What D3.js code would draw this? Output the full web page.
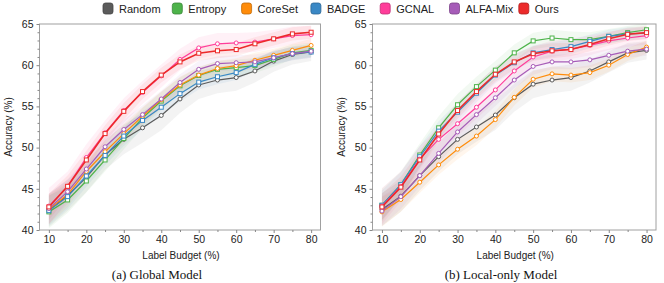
<!DOCTYPE html>
<html>
<head>
<script src="https://d3js.org/d3.v7.min.js"></script>
<style>
  body { margin: 0; background: #fff; }
  text { font-family: "Liberation Sans", Arial, sans-serif; }
  .caption { font-family: "Liberation Serif", "Times New Roman", serif; font-size: 13px; }
</style>
</head>
<body>
<svg id="chart" width="664" height="283"></svg>
<script>
const budgets = [10, 15, 20, 25, 30, 35, 40, 45, 50, 55, 60, 65, 70, 75, 80];
const methods = ["Random", "Entropy", "CoreSet", "BADGE", "GCNAL", "ALFA-Mix", "Ours"];
const colors = ["#5b5b5b", "#4db34a", "#ff8c0a", "#3a88c5", "#ff3d9a", "#a65cb8", "#ec2a2a"];

// (a) Global Model
const globalRandom  = [42.4, 44.2, 46.4, 49.1, 51.0, 52.4, 53.9, 55.9, 57.6, 58.2, 58.5, 59.3, 60.5, 61.3, 61.6];
const globalEntropy = [42.2, 43.65, 45.95, 48.5, 51.1, 53.6, 55.65, 57.5, 58.75, 59.5, 59.7, 59.95, 60.7, 61.5, 61.8];
const globalCoreSet = [42.5, 44.3, 47.1, 49.5, 51.7, 53.8, 55.8, 57.6, 58.8, 59.6, 59.95, 60.6, 61.2, 61.8, 62.4];
const globalBADGE   = [42.35, 44.05, 46.55, 49.05, 51.4, 53.3, 54.9, 56.55, 57.95, 58.6, 59.1, 60.1, 60.9, 61.4, 61.6];
const globalGCNAL   = [42.9, 45.3, 48.8, 51.8, 54.5, 56.7, 58.7, 60.7, 62.1, 62.6, 62.7, 62.8, 63.2, 63.6, 63.7];
const globalALFAMix = [42.6, 44.65, 47.4, 50.1, 52.2, 54.0, 55.9, 57.9, 59.5, 60.2, 60.3, 60.4, 60.9, 61.4, 61.7];
const globalOurs    = [42.8, 45.3, 48.5, 51.7, 54.4, 56.8, 58.8, 60.4, 61.45, 61.75, 61.9, 62.6, 63.2, 63.8, 64.0];

// (b) Local-only Model
const localRandom  = [42.5, 44.1, 46.6, 48.9, 51.0, 52.5, 53.95, 56.05, 57.7, 58.2, 58.5, 59.3, 60.4, 61.5, 61.8];
const localEntropy = [43.0, 45.5, 49.1, 52.4, 55.2, 57.4, 59.4, 61.5, 62.95, 63.3, 63.1, 63.1, 63.5, 63.95, 64.3];
const localCoreSet = [42.2, 43.7, 45.8, 47.9, 49.8, 51.4, 53.4, 56.1, 58.3, 58.95, 58.8, 59.1, 60.0, 61.3, 62.2];
const localBADGE   = [43.0, 45.5, 48.9, 52.0, 54.3, 56.6, 58.8, 60.3, 61.5, 61.9, 62.25, 62.9, 63.5, 63.8, 63.9];
const localGCNAL   = [42.9, 45.3, 48.6, 51.0, 52.9, 54.9, 57.0, 59.3, 61.0, 61.7, 61.95, 62.4, 62.95, 63.3, 63.6];
const localALFAMix = [42.3, 44.05, 46.6, 49.3, 51.9, 54.0, 56.05, 58.2, 59.85, 60.4, 60.4, 60.65, 61.2, 61.7, 61.95];
const localOurs    = [42.8, 45.2, 48.5, 51.65, 54.5, 56.8, 58.9, 60.4, 61.4, 61.75, 61.9, 62.5, 63.2, 63.75, 63.95];

// shaded spread (half-width, %) per method
const stdRandom  = [2.0, 1.9, 1.8, 1.8, 1.8, 1.8, 1.8, 1.7, 1.7, 1.6, 1.6, 1.4, 1.3, 1.2, 1.1];
const stdEntropy = [2.0, 1.6, 1.4, 1.4, 1.3, 1.2, 1.1, 1.0, 1.0, 1.0, 1.0, 0.9, 0.9, 0.8, 0.8];
const stdCoreSet = [1.8, 1.5, 1.3, 1.2, 1.2, 1.1, 1.0, 1.0, 1.0, 0.9, 0.9, 0.9, 0.8, 0.8, 0.8];
const stdBADGE   = [1.8, 1.5, 1.3, 1.2, 1.2, 1.1, 1.0, 1.0, 0.9, 0.9, 0.9, 0.8, 0.8, 0.8, 0.7];
const stdGCNAL   = [2.2, 1.8, 1.6, 1.5, 1.5, 1.4, 1.4, 1.3, 1.3, 1.3, 1.2, 1.2, 1.1, 1.1, 1.1];
const stdALFAMix = [1.8, 1.5, 1.3, 1.2, 1.2, 1.1, 1.0, 1.0, 1.0, 0.9, 0.9, 0.9, 0.8, 0.8, 0.8];
const stdOurs    = [1.6, 1.3, 1.1, 1.0, 1.0, 0.9, 0.9, 0.9, 0.9, 0.9, 0.8, 0.8, 0.8, 0.8, 0.8];

const stds = [stdRandom, stdEntropy, stdCoreSet, stdBADGE, stdGCNAL, stdALFAMix, stdOurs];
const panels = [
  { caption: "(a) Global Model", left: 39.5, right: 320.5, capX: 157,
    series: [globalRandom, globalEntropy, globalCoreSet, globalBADGE, globalGCNAL, globalALFAMix, globalOurs] },
  { caption: "(b) Local-only Model", left: 372.5, right: 656, capX: 501,
    series: [localRandom, localEntropy, localCoreSet, localBADGE, localGCNAL, localALFAMix, localOurs] }
];

const svg = d3.select("#chart");
const plotTop = 24, plotBottom = 230;
const y = d3.scaleLinear().domain([40, 65]).range([plotBottom, plotTop]);

panels.forEach(p => {
  const x = d3.scaleLinear().domain([7.5, 82.5]).range([p.left, p.right]);
  const g = svg.append("g");

  // frame
  g.append("rect").attr("x", p.left).attr("y", plotTop)
    .attr("width", p.right - p.left).attr("height", plotBottom - plotTop)
    .attr("fill", "none").attr("stroke", "#a0a0a0").attr("stroke-width", 1);

  // axes: major + minor ticks
  g.append("g").attr("transform", `translate(0,${plotBottom})`)
    .call(d3.axisBottom(x).tickValues(d3.range(10, 81, 10)).tickSize(3).tickPadding(3));
  g.append("g").attr("transform", `translate(0,${plotBottom})`)
    .call(d3.axisBottom(x).tickValues(d3.range(15, 80, 10)).tickSize(2).tickFormat(""));
  g.append("g").attr("transform", `translate(${p.left},0)`)
    .call(d3.axisLeft(y).tickValues(d3.range(40, 66, 5)).tickSize(3).tickPadding(3));
  g.append("g").attr("transform", `translate(${p.left},0)`)
    .call(d3.axisLeft(y).tickValues(d3.range(41, 65).filter(v => v % 5)).tickSize(2).tickFormat(""));
  g.selectAll(".domain").remove();
  g.selectAll(".tick line").attr("stroke", "#888");
  g.selectAll(".tick text").attr("font-size", 10.5).attr("fill", "#222")
    .attr("font-family", "Liberation Sans, Arial, sans-serif");

  g.append("text").attr("x", (p.left + p.right) / 2 + 1).attr("y", 259)
    .attr("text-anchor", "middle").attr("font-size", 10).attr("fill", "#222")
    .text("Label Budget (%)");
  g.append("text")
    .attr("transform", `translate(${p.left - 28},${(plotTop + plotBottom) / 2}) rotate(-90)`)
    .attr("text-anchor", "middle").attr("font-size", 10).attr("fill", "#222")
    .text("Accuracy (%)");
  g.append("text").attr("class", "caption").attr("x", p.capX).attr("y", 279)
    .attr("text-anchor", "middle").attr("fill", "#111").text(p.caption);

  // bands
  const area = d3.area().x((d, i) => x(budgets[i]))
    .y0(d => y(d[0] - d[1])).y1(d => y(d[0] + d[1]));
  p.series.forEach((s, k) => {
    g.append("path").datum(s.map((v, i) => [v, stds[k][i]]))
      .attr("d", area).attr("fill", colors[k]).attr("fill-opacity", 0.075);
  });

  // lines + markers
  const line = d3.line().x((d, i) => x(budgets[i])).y(d => y(d));
  p.series.forEach((s, k) => {
    g.append("path").datum(s).attr("d", line).attr("fill", "none")
      .attr("stroke", colors[k]).attr("stroke-width", k === 6 ? 1.6 : 1.2);
    const pts = g.append("g");
    if (k === 6 || k === 3 || k === 1) {
      pts.selectAll("rect").data(s).join("rect")
        .attr("x", (d, i) => x(budgets[i]) - 2).attr("y", d => y(d) - 2)
        .attr("width", 4).attr("height", 4)
        .attr("fill", "#fff").attr("stroke", colors[k]).attr("stroke-width", 1);
    } else {
      pts.selectAll("circle").data(s).join("circle")
        .attr("cx", (d, i) => x(budgets[i])).attr("cy", d => y(d)).attr("r", 2)
        .attr("fill", "#fff").attr("stroke", colors[k]).attr("stroke-width", 1);
    }
  });
});

// legend
const leg = svg.append("g").selectAll("g").data(methods).join("g")
  .attr("transform", (d, i) => `translate(${103 + i * 69.3},3)`);
leg.append("rect").attr("width", 10).attr("height", 11).attr("rx", 2.5)
  .attr("fill", (d, i) => colors[i])
  .attr("stroke", (d, i) => d3.color(colors[i]).darker(0.8)).attr("stroke-width", 0.8);
leg.append("text").attr("x", 16).attr("y", 9.5).attr("font-size", 11).attr("fill", "#222")
  .text(d => d);
</script>
</body>
</html>
